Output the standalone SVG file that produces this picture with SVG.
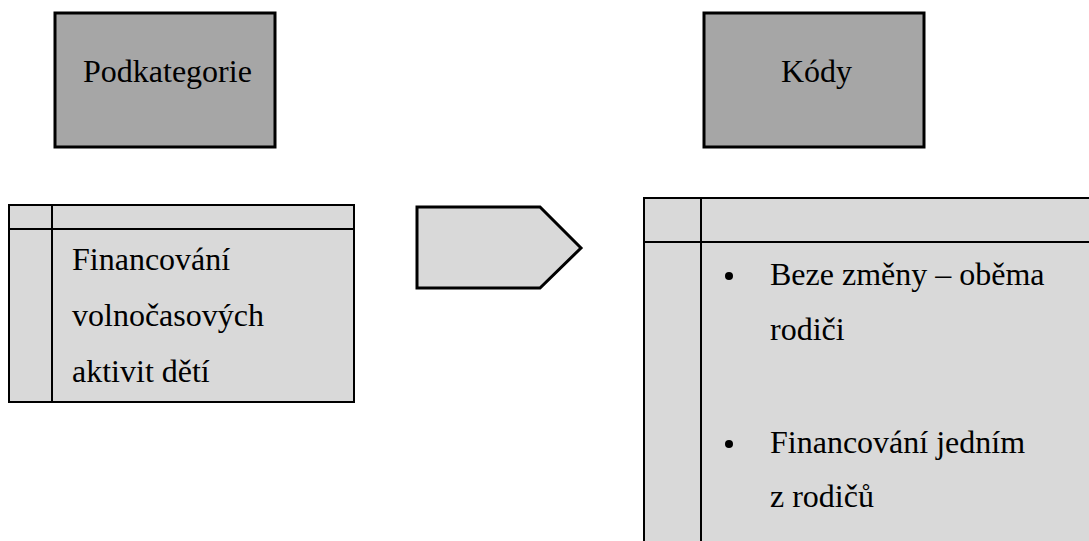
<svg xmlns="http://www.w3.org/2000/svg" width="1089" height="541" viewBox="0 0 1089 541">
<style>
.hdr{fill:#a6a6a6;stroke:#000;stroke-width:3}
.tbl{fill:#d9d9d9;stroke:#000;stroke-width:2}
.ln{stroke:#000;stroke-width:2;fill:none}
</style>
<rect width="1089" height="541" fill="#fff"/>
<g id="podkategorie">
<rect class="hdr" x="55" y="13" width="220" height="134"/>
<text x="83" y="82" font-family="'Liberation Serif', serif" font-size="32">Podkategorie</text>
</g>
<g id="kody">
<rect class="hdr" x="704" y="13" width="220" height="134"/>
<text x="781" y="82" font-family="'Liberation Serif', serif" font-size="32">K&#xF3;dy</text>
</g>
<g id="subcategory-table">
<rect class="tbl" x="9" y="205" width="345" height="197"/>
<line class="ln" x1="9" y1="229" x2="354" y2="229"/>
<line class="ln" x1="52" y1="205" x2="52" y2="402"/>
<text x="72" y="270" font-family="'Liberation Serif', serif" font-size="32">Financov&#xE1;n&#xED;</text>
<text x="72" y="326" font-family="'Liberation Serif', serif" font-size="32">volno&#x10D;asov&#xFD;ch</text>
<text x="72" y="382" font-family="'Liberation Serif', serif" font-size="32">aktivit d&#x11B;t&#xED;</text>
</g>
<g id="connectors">
<polygon points="417,207 540,207 581,248 540,288 417,288" fill="#d9d9d9" stroke="#000" stroke-width="3"/>
</g>
<g id="codes-table">
<rect class="tbl" x="644" y="198" width="460" height="360"/>
<line class="ln" x1="644" y1="242" x2="1089" y2="242"/>
<line class="ln" x1="701" y1="198" x2="701" y2="541"/>
<circle cx="729" cy="276" r="4"/>
<text x="770" y="285" font-family="'Liberation Serif', serif" font-size="32">Beze zm&#x11B;ny &#x2013; ob&#x11B;ma</text>
<text x="770" y="340" font-family="'Liberation Serif', serif" font-size="32">rodi&#x10D;i</text>
<circle cx="729" cy="444" r="4"/>
<text x="770" y="453" font-family="'Liberation Serif', serif" font-size="32">Financov&#xE1;n&#xED; jedn&#xED;m</text>
<text x="770" y="507" font-family="'Liberation Serif', serif" font-size="32">z rodi&#x10D;&#x16F;</text>
</g>
</svg>
